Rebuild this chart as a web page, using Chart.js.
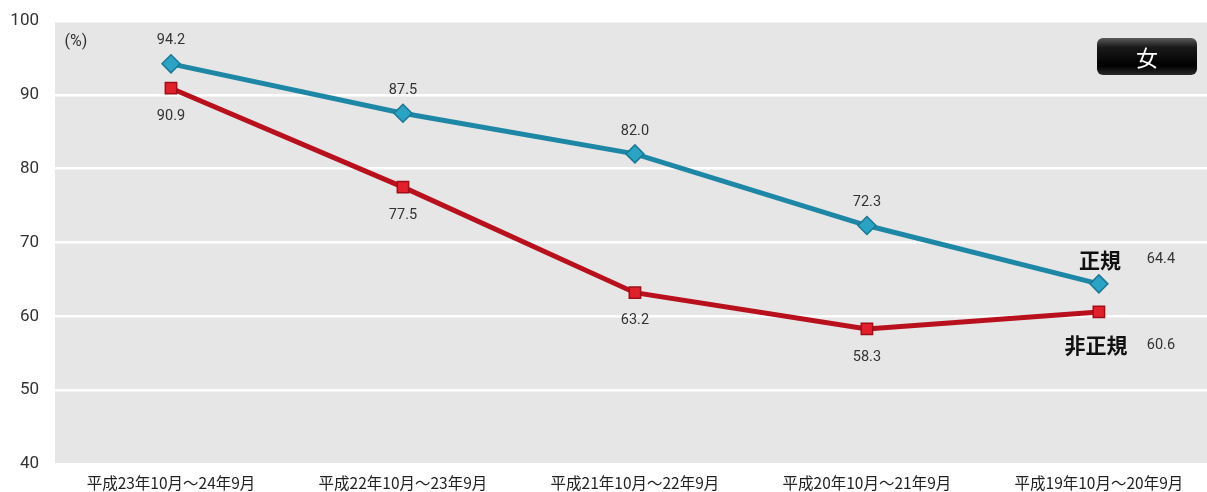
<!DOCTYPE html>
<html>
<head>
<meta charset="utf-8">
<script src="https://cdn.jsdelivr.net/npm/chart.js@4/dist/chart.umd.min.js"></script>
<style>
	html, body { margin: 0; padding: 0; background: #fff; }
	#wrap { position: relative; width: 1207px; height: 492px; }
</style>
</head>
<body>
<div id="wrap"><canvas id="chart" width="1207" height="492"></canvas></div>
<script>
const periods = ["平成23年10月～24年9月", "平成22年10月～23年9月", "平成21年10月～22年9月", "平成20年10月～21年9月", "平成19年10月～20年9月"]
const seiki = [94.2, 87.5, 82.0, 72.3, 64.4]
const hiseiki = [90.9, 77.5, 63.2, 58.3, 60.6]
const yTicks = [40, 50, 60, 70, 80, 90, 100]

const jpFont = "'Noto Sans CJK JP', 'Noto Sans', sans-serif"

// value labels, series names, (%) and the badge
const labelPlugin = {
	id: "labels",
	afterDatasetsDraw(chart){
		const ctx = chart.ctx
		const area = chart.chartArea
		ctx.save()
		ctx.font = "14.5px Roboto, 'Noto Sans', sans-serif"
		ctx.fillStyle = "#333"
		ctx.textAlign = "center"
		ctx.textBaseline = "middle"
		chart.data.datasets.forEach((ds, di) => {
			const meta = chart.getDatasetMeta(di)
			meta.data.forEach((pt, i) => {
				const txt = ds.data[i].y.toFixed(1)
				if(i == ds.data.length - 1){
					ctx.fillText(txt, pt.x + 62, di == 0 ? pt.y - 24 : pt.y + 33)
				} else if(di == 0){
					ctx.fillText(txt, pt.x, pt.y - 23)
				} else {
					ctx.fillText(txt, pt.x, pt.y + 28)
				}
			})
		})

		// series names at the last point
		ctx.font = "bold 21px " + jpFont
		ctx.fillStyle = "#111"
		const lastS = chart.getDatasetMeta(0).data[4]
		const lastH = chart.getDatasetMeta(1).data[4]
		ctx.fillText("正規", lastS.x + 1, lastS.y - 24)
		ctx.fillText("非正規", lastH.x - 3, lastH.y + 33)

		ctx.font = "16px Roboto, " + jpFont
		ctx.fillStyle = "#333"
		ctx.fillText("(%)", area.left + 21, area.top + 21)

		// black badge
		const bx = 1097, by = 38, bw = 100, bh = 37
		const g = ctx.createLinearGradient(0, by, 0, by + bh)
		g.addColorStop(0, "#5a5a5a")
		g.addColorStop(0.25, "#1a1a1a")
		g.addColorStop(0.75, "#000")
		g.addColorStop(1, "#2a2a2a")
		ctx.fillStyle = g
		ctx.beginPath()
		ctx.roundRect(bx, by, bw, bh, 6)
		ctx.fill()
		ctx.fillStyle = "#fff"
		ctx.font = "22px " + jpFont
		ctx.fillText("女", bx + bw / 2, by + bh / 2 + 1)
		ctx.restore()
	}
}

// grey plot background
const bgPlugin = {
	id: "bg",
	beforeDraw(chart){
		const a = chart.chartArea
		chart.ctx.save()
		chart.ctx.fillStyle = "#e6e6e6"
		chart.ctx.fillRect(a.left, a.top, a.right - a.left, a.bottom - a.top)
		chart.ctx.restore()
	}
}

new Chart("chart", {
	type: "line",
	data: {
		datasets: [{
			label: "正規",
			data: seiki.map((v, i) => ({x: i, y: v})),
			borderColor: "#1f87a6",
			borderWidth: 5,
			pointStyle: "rectRot",
			pointRadius: 9,
			pointBackgroundColor: "#2aa3c4",
			pointBorderColor: "#1a7894",
			pointBorderWidth: 1.5,
			tension: 0
		}, {
			label: "非正規",
			data: hiseiki.map((v, i) => ({x: i, y: v})),
			borderColor: "#b8101c",
			borderWidth: 5,
			pointStyle: "rect",
			pointRadius: 8,
			pointBackgroundColor: "#e1202b",
			pointBorderColor: "#a00f18",
			pointBorderWidth: 1.5,
			tension: 0
		}]
	},
	options: {
		responsive: false,
		animation: false,
		layout: { autoPadding: false, padding: { top: 21, right: 0, bottom: 0, left: 0 } },
		plugins: { legend: { display: false }, tooltip: { enabled: false } },
		scales: {
			x: {
				type: "linear",
				min: -0.5,
				max: 4.466,
				afterBuildTicks(axis){
					axis.ticks = periods.map((p, i) => ({value: i}))
				},
				afterFit(axis){
					axis.height = 28
					axis.paddingLeft = 0
					axis.paddingRight = 0
				},
				ticks: {
					callback: (v) => periods[v],
					color: "#222",
					font: { size: 15.5, family: jpFont },
					maxRotation: 0,
					autoSkip: false,
					padding: 10
				},
				grid: { display: false, drawTicks: false },
				border: { display: false }
			},
			y: {
				min: 40,
				max: 100,
				afterBuildTicks(axis){
					axis.ticks = yTicks.map(v => ({value: v}))
				},
				afterFit(axis){
					axis.width = 55
					axis.paddingTop = 0
					axis.paddingBottom = 0
				},
				ticks: {
					color: "#333",
					font: { size: 17, family: "Roboto, 'Noto Sans', sans-serif" },
					padding: 16
				},
				grid: { color: "#ffffff", lineWidth: 2.5, drawTicks: false },
				border: { display: false }
			}
		}
	},
	plugins: [bgPlugin, labelPlugin]
})
</script>
</body>
</html>
